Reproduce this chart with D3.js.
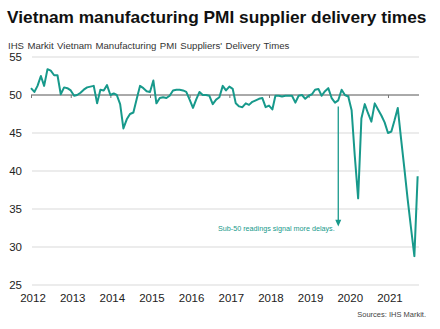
<!DOCTYPE html>
<html>
<head>
<meta charset="utf-8">
<script src="https://cdn.jsdelivr.net/npm/d3@7"></script>
<style>
  body { margin: 0; background: #fff; }
  svg { font-family: "Liberation Sans", Arial, sans-serif; }
</style>
</head>
<body>
<div id="chart"></div>
<script>
// Monthly readings, Jan 2012 - Oct 2021
const startYear = 2012;
const deliveryTimes = [
  // 2012
  50.9, 50.4, 51.2, 52.5, 51.2, 53.4, 53.2, 52.6, 52.6, 50.1, 51.0, 50.9,
  // 2013
  50.6, 49.9, 50.0, 50.3, 50.7, 51.0, 51.1, 51.2, 48.9, 50.7, 50.6, 51.3,
  // 2014
  50.0, 50.2, 50.0, 48.8, 45.6, 46.8, 47.5, 47.7, 49.5, 51.2, 50.9, 50.5,
  // 2015
  50.4, 51.9, 48.9, 49.6, 49.7, 49.6, 49.9, 50.6, 50.7, 50.7, 50.6, 50.4,
  // 2016
  49.4, 48.3, 49.4, 50.4, 50.0, 50.0, 49.9, 48.8, 49.4, 49.7, 51.2, 50.6,
  // 2017
  51.1, 50.8, 48.9, 48.5, 48.4, 48.9, 48.7, 49.1, 49.3, 49.5, 49.6, 48.4,
  // 2018
  48.6, 48.1, 49.9, 49.9, 49.8, 49.9, 49.9, 49.9, 49.0, 49.9, 50.0, 49.5,
  // 2019
  49.9, 50.1, 50.7, 50.8, 49.9, 50.5, 50.9, 49.6, 49.0, 49.3, 50.7, 50.0,
  // 2020
  49.8, 48.0, 42.0, 36.4, 46.9, 48.8, 47.6, 46.5, 48.9, 48.1, 47.3, 46.4,
  // 2021
  45.0, 45.2, 46.6, 48.3, 44.3, 40.3, 36.3, 32.5, 28.8, 39.3
];
const yTicks = [25, 30, 35, 40, 45, 50, 55];
const yearLabels = ["2012", "2013", "2014", "2015", "2016", "2017", "2018", "2019", "2020", "2021"];

const titleText = "Vietnam manufacturing PMI supplier delivery times";
const subtitleText = "IHS Markit Vietnam Manufacturing PMI Suppliers' Delivery Times";
const noteText = "Sub-50 readings signal more delays.";
const sourceText = "Sources: IHS Markit.";

const width = 440, height = 329;
const plotLeft = 31, plotRight = 421, plotTop = 57, plotBottom = 285;
const teal = "#17998b";

const data = deliveryTimes.map((v, i) => ({ date: new Date(startYear, i, 1), value: v }));

const svg = d3.select("#chart").append("svg")
  .attr("width", width)
  .attr("height", height);

const x = d3.scaleTime()
  .domain([new Date(2012, 0, 1), new Date(2021, 10, 1)])
  .range([plotLeft, plotRight]);

const y = d3.scaleLinear()
  .domain([25, 55])
  .range([plotBottom, plotTop]);

// Title + subtitle
svg.append("text")
  .attr("x", 7).attr("y", 23)
  .attr("font-size", 17.3).attr("font-weight", "bold")
  .attr("fill", "#111")
  .text(titleText);

svg.append("text")
  .attr("x", 8).attr("y", 49)
  .attr("font-size", 9.6)
  .attr("word-spacing", 0.8)
  .attr("fill", "#333")
  .text(subtitleText);

// Gridlines
svg.append("g")
  .selectAll("line")
  .data(yTicks.filter(d => d !== 50))
  .join("line")
  .attr("x1", plotLeft + 1).attr("x2", plotRight - 2)
  .attr("y1", d => y(d)).attr("y2", d => y(d))
  .attr("stroke", "#d9d9d9")
  .attr("stroke-width", 1);

// Y labels
svg.append("g")
  .selectAll("text")
  .data(yTicks)
  .join("text")
  .attr("x", 22).attr("y", d => y(d) + 4)
  .attr("text-anchor", "end")
  .attr("font-size", 11.5)
  .attr("fill", "#222")
  .text(d => d);

// Axis line at 50 with year ticks
const xAxis = d3.axisBottom(x)
  .ticks(d3.timeYear.every(1))
  .tickSize(3)
  .tickFormat("");
const axisG = svg.append("g")
  .attr("transform", `translate(0,${y(50)})`)
  .call(xAxis);
axisG.select(".domain")
  .attr("d", `M${plotLeft},0H${plotRight - 2}`)
  .attr("stroke", "#555");
axisG.selectAll(".tick line").attr("stroke", "#777");
axisG.selectAll(".tick").filter(d => d.getFullYear() > 2021).remove();

// Year labels under the plot
svg.append("g")
  .selectAll("text")
  .data(yearLabels)
  .join("text")
  .attr("x", d => x(new Date(+d, 0, 1)) + 2)
  .attr("y", 302)
  .attr("text-anchor", "middle")
  .attr("font-size", 11.5)
  .attr("fill", "#222")
  .text(d => d);

// Series line
const line = d3.line()
  .x(d => x(d.date))
  .y(d => y(d.value));

svg.append("path")
  .datum(data)
  .attr("fill", "none")
  .attr("stroke", teal)
  .attr("stroke-width", 2)
  .attr("stroke-linejoin", "round")
  .attr("d", line);

// Annotation arrow
const arrowX = x(new Date(2019, 9, 1));
svg.append("line")
  .attr("x1", arrowX).attr("x2", arrowX)
  .attr("y1", y(48.5)).attr("y2", y(33.4))
  .attr("stroke", teal).attr("stroke-width", 1.3);
svg.append("path")
  .attr("d", `M${arrowX - 3},${y(33.6)}L${arrowX + 3},${y(33.6)}L${arrowX},${y(32.7)}Z`)
  .attr("fill", teal);

svg.append("text")
  .attr("x", 218).attr("y", 231)
  .attr("font-size", 7.2)
  .attr("fill", teal)
  .text(noteText);

// Source
svg.append("text")
  .attr("x", 426).attr("y", 317)
  .attr("text-anchor", "end")
  .attr("font-size", 7.5)
  .attr("fill", "#444")
  .text(sourceText);
</script>
</body>
</html>
